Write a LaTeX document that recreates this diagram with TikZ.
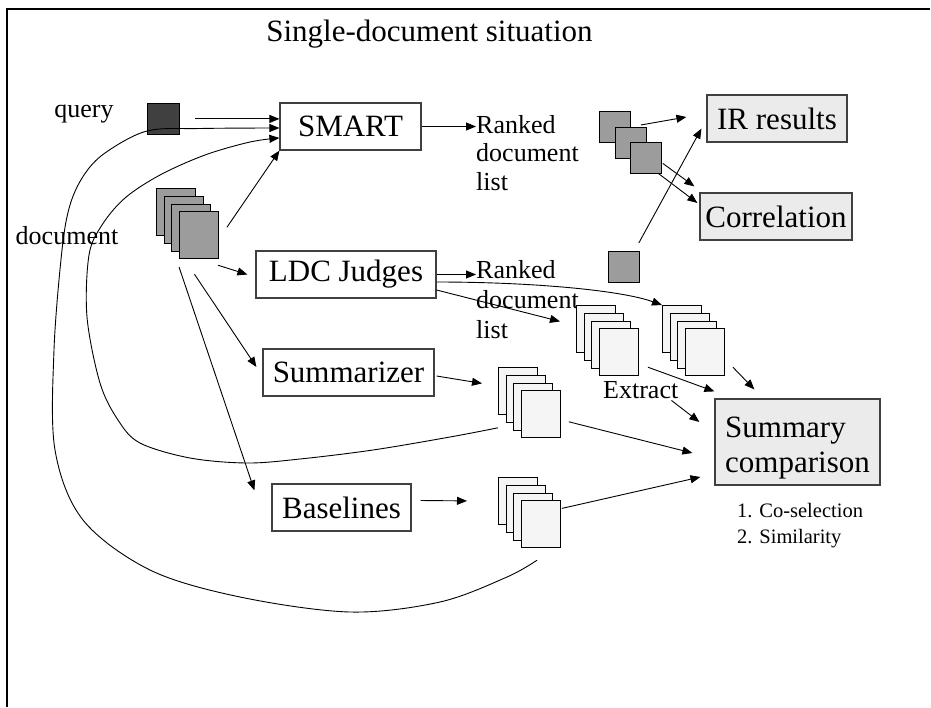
\documentclass[tikz,border=0pt]{standalone}
\usepackage{fontspec}
\setmainfont{Liberation Serif}
\usetikzlibrary{arrows.meta,calc}

\definecolor{boxline}{HTML}{404040}
\definecolor{darksq}{HTML}{404040}
\definecolor{docgray}{HTML}{9C9C9C}
\definecolor{resfill}{HTML}{EBEBEB}
\definecolor{pagefill}{HTML}{F5F5F5}

\newcommand\bigfont{\fontsize{31}{35}\selectfont}
\newcommand\midfont{\fontsize{26}{28.5}\selectfont}
\newcommand\smallfont{\fontsize{20.5}{26}\selectfont}

% four overlapping pages: name, x and y of the back page, fill colour
\newcommand\docstack[4]{%
  \foreach \k in {1,...,4}{%
    \node[page, fill=#4] (#1\k) at ({#2+7.7*(\k-1)},{#3+7.8*(\k-1)}) {};
  }%
}

\begin{document}
\begin{tikzpicture}[x=1pt, y=-1pt,
  box/.style={draw=boxline, line width=1.2pt, fill=white, minimum height=47pt,
    inner sep=0pt, font=\bigfont},
  resbox/.style={box, fill=resfill},
  page/.style={draw=black, line width=0.8pt, minimum width=39pt, minimum height=47pt,
    inner sep=0pt, anchor=north west},
  sq/.style={draw=black, line width=0.8pt, fill=docgray, minimum width=31pt,
    minimum height=31pt, inner sep=0pt, anchor=north west},
  arr/.style={-{Triangle[length=10pt,width=8pt]}, line width=0.9pt},
  lbl/.style={inner sep=0pt, font=\midfont},
]
\useasboundingbox (0,0) rectangle (931,707);
\fill[white] (0,0) rectangle (931,707);

% frame lines
\draw[line width=1.5pt] (7,707) -- (7,9) -- (930,9);

% title
\node[font=\bigfont, anchor=base, inner sep=0pt] (title) at (429.5,41) {Single-document situation};

% inputs
\node[lbl] (qlabel) at (84,114) {query};
\node[draw=black, line width=0.8pt, fill=darksq, minimum width=32pt, minimum height=31pt,
  inner sep=0pt, anchor=north west] (q) at (147,103) {};
\node[lbl] (dlabel) at (67,236) {document};
\docstack{d}{156}{188}{docgray}

% processing boxes
\node[box, minimum width=141pt] (smart) at (350.5,126.5) {SMART};
\node[box, minimum width=180pt] (ldc) at (346,274.5) {LDC Judges};
\node[box, minimum width=171pt] (summ) at (348.5,372.5) {Summarizer};
\node[box, minimum width=139pt] (base) at (341.5,507.5) {Baselines};

% ranked lists (anchored on the baseline of their last line)
\node[lbl, align=left, anchor=base west] (r1) at (476,190) {Ranked\\document\\list};
\node[lbl, align=left, anchor=base west] (r2) at (476,338) {Ranked\\[2pt]document\\[1pt]list};

% ranked document squares
\node[sq] (s1) at (599,111) {};
\node[sq] (s2) at (615,127) {};
\node[sq] (s3) at (630,142) {};
\node[sq] (s4) at (608,251) {};

% result boxes
\node[resbox, minimum width=140pt] (ir) at (777,118.5) {IR results};
\node[resbox, minimum width=152pt] (corr) at (776,216.5) {Correlation};
\node[resbox, minimum width=165pt, minimum height=86pt] (sc) at (797.5,442) {};
\node[inner sep=0pt, font=\bigfont, align=left, anchor=base west] (sctext) at (725,472)
  {Summary\\comparison};
\node[inner sep=0pt, font=\smallfont, align=left, anchor=base west] (crit) at (737,543)
  {1. Co-selection\\2. Similarity};

% summary stacks
\docstack{L}{576}{305}{pagefill}
\docstack{M}{662}{305}{pagefill}
\docstack{S}{498}{367}{pagefill}
\docstack{B}{498}{477}{pagefill}
\node[lbl, anchor=base west] (extract) at (603,398) {Extract};

% arrows into SMART
\draw[arr, shorten <=15pt] (q.east) -- (q.east -| smart.west);
\draw[arr] ($(d4.east)+(8,-8)$) -- (smart.south west);

% document to the other systems
\draw[arr] ($(d4.south east)+(-1,6)$) -- ($(ldc.west)+(-8,0)$);
\draw[arr] ($(d4.south)+(-4.5,15)$) -- ($(summ.west)+(-6,-5.5)$);
\draw[arr] ($(d4.south west)+(0,8)$) -- ($(base.north west)+(-17,7)$);

% system outputs
\draw[arr] (smart.east) -- (smart.east -| r1.west);
\draw[arr] (ldc.east) -- (ldc.east -| r2.west);
\draw[arr] ($(ldc.east)+(0,15.5)$) -- ($(L1.west)+(-16,-7.5)$);
\draw[arr] ($(ldc.east)+(0,7.5)$) .. controls (530,282) and (620,290) .. (M1.north west);
\draw[arr] ($(summ.east)+(2,3.5)$) -- ($(S1.west)+(-16,-7.5)$);
\draw[arr] ($(base.east)+(9,-7)$) -- ($(B1.west)+(-31,0)$);

% into the evaluation boxes
\draw[arr] ($(s2.north east)+(-6,-2)$) -- ($(ir.west)+(-20,-1.5)$);
\draw[arr] ($(s3.east)+(1,5.5)$) -- ($(corr.north west)+(-5,-6)$);
\draw[arr] ($(s3.south east)+(-3,0)$) -- ($(corr.west)+(-2,-13.5)$);
\draw[arr] ($(s4.north east)+(-1,-8)$) -- ($(ir.south west)+(-5,-14)$);

\draw[arr] ($(L4.south east)+(9,-9)$) -- ($(sc.north west)+(0,-7)$);
\draw[arr] ($(M4.south east)+(8,-9)$) -- ($(sc.north west)+(40,-9)$);
\draw[arr] ($(extract.south east)+(-7,2)$) -- ($(sc.west)+(-15,-20)$);
\draw[arr] ($(S4.east)+(8,7.5)$) -- ($(sc.west)+(-22,11)$);
\draw[arr] ($(B4.north east)+(1,8)$) -- ($(sc.west)+(-14,35)$);

% feedback curves from the summaries back to SMART
\coordinate (outstart) at ($(B4.south)+(-4,12)$);
\coordinate (instart) at ($(S1.south west)+(0,13)$);
\draw[arr] plot[smooth, tension=0.55] coordinates {
  (outstart) (507,577) (440,602) (350,612) (240,597) (150,570) (83,520)
  (55,450) (54,350) (62,250) (70,205) (84,175) (105,153) (147,131) (200,128.5)
  ($(smart.west)+(0,1.5)$)};
\draw[arr] plot[smooth, tension=0.55] coordinates {
  (instart) (450,437) (373,450) (300,459) (247,463) (190,458) (140,443) (118,420)
  (100,383) (87,317) (89,255) (102,225) (125,198) (160,175) (205,155) (250,142)
  ($(smart.west)+(0,11.5)$)};
\end{tikzpicture}
\end{document}
